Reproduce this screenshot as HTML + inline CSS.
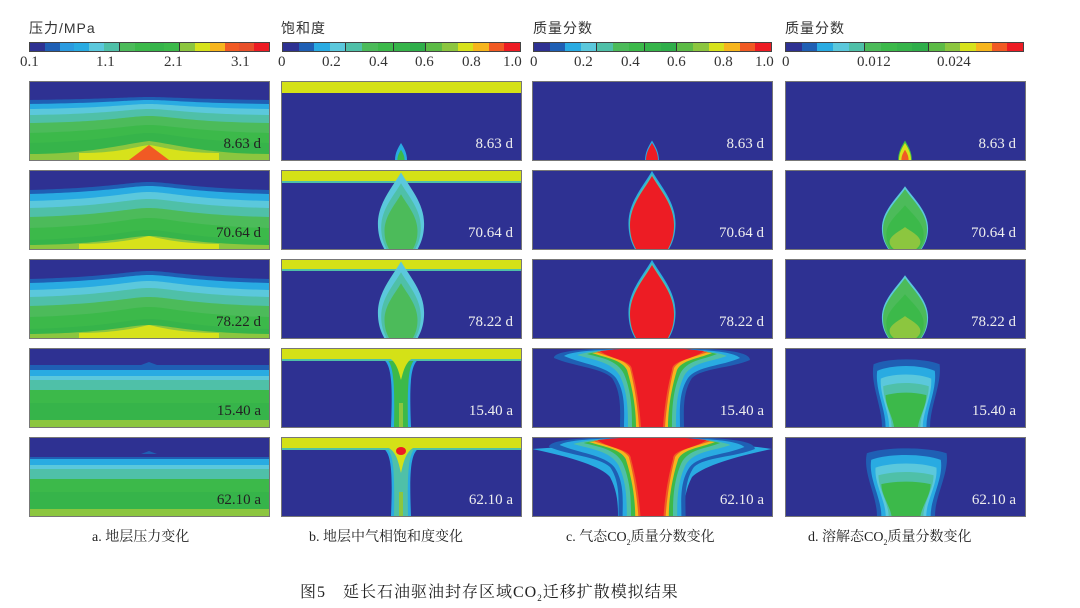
<!DOCTYPE html>
<html><head><meta charset="utf-8">
<style>
body{margin:0;background:#fff;width:1080px;height:608px;overflow:hidden;position:relative;font-family:"Liberation Serif","Noto Serif CJK SC",serif}
.t{position:absolute;font-family:"Liberation Sans","Noto Sans CJK SC",sans-serif;font-size:14px;color:#333;letter-spacing:1px}
.cb{position:absolute;top:42px;height:10px;display:flex;border:1px solid #444;box-sizing:border-box}
.cb div{flex:1}
.tk{position:absolute;top:54px;font-size:15px;color:#333}
.cap{position:absolute;top:526px;font-size:14px;color:#222;font-family:"Liberation Serif","Noto Serif CJK SC",serif}
</style></head><body>
<div class="t" style="left:29px;top:18px">压力/MPa</div>
<div class="t" style="left:281px;top:18px">饱和度</div>
<div class="t" style="left:533px;top:18px">质量分数</div>
<div class="t" style="left:785px;top:18px">质量分数</div>

<div class="cb" style="left:29px;width:241px"><div style="background:#2e3192"></div><div style="background:#1f5fb4"></div><div style="background:#2b9be0"></div><div style="background:#29abe2"></div><div style="background:#5bc8dc"></div><div style="background:#4fc0a8;border-right:1px solid #333"></div><div style="background:#4cbb5a"></div><div style="background:#3cb94a"></div><div style="background:#36b44a"></div><div style="background:#3cb94a;border-right:1px solid #333"></div><div style="background:#8cc63f"></div><div style="background:#d7e21b"></div><div style="background:#f7b51d"></div><div style="background:#f15a24"></div><div style="background:#e8502a"></div><div style="background:#ed1c24"></div></div>
<div class="cb" style="left:282px;width:239px"><div style="background:#2e3192"></div><div style="background:#1f5fb4"></div><div style="background:#29abe2"></div><div style="background:#5bc8dc;border-right:1px solid #333"></div><div style="background:#4fc0a8"></div><div style="background:#4cbb5a"></div><div style="background:#3cb94a;border-right:1px solid #333"></div><div style="background:#36b44a"></div><div style="background:#2fae4a;border-right:1px solid #333"></div><div style="background:#5cbb46"></div><div style="background:#8cc63f"></div><div style="background:#d7e21b"></div><div style="background:#f7b51d"></div><div style="background:#f15a24"></div><div style="background:#ed1c24"></div></div>
<div class="cb" style="left:533px;width:239px"><div style="background:#2e3192"></div><div style="background:#1f5fb4"></div><div style="background:#29abe2"></div><div style="background:#5bc8dc;border-right:1px solid #333"></div><div style="background:#4fc0a8"></div><div style="background:#4cbb5a"></div><div style="background:#3cb94a;border-right:1px solid #333"></div><div style="background:#36b44a"></div><div style="background:#2fae4a;border-right:1px solid #333"></div><div style="background:#5cbb46"></div><div style="background:#8cc63f"></div><div style="background:#d7e21b"></div><div style="background:#f7b51d"></div><div style="background:#f15a24"></div><div style="background:#ed1c24"></div></div>
<div class="cb" style="left:785px;width:239px"><div style="background:#2e3192"></div><div style="background:#1f5fb4"></div><div style="background:#29abe2"></div><div style="background:#5bc8dc"></div><div style="background:#4fc0a8;border-right:1px solid #333"></div><div style="background:#4cbb5a"></div><div style="background:#3cb94a"></div><div style="background:#36b44a"></div><div style="background:#2fae4a;border-right:1px solid #333"></div><div style="background:#5cbb46"></div><div style="background:#8cc63f"></div><div style="background:#d7e21b"></div><div style="background:#f7b51d"></div><div style="background:#f15a24"></div><div style="background:#ed1c24"></div></div>

<div class="tk" style="left:20px">0.1</div><div class="tk" style="left:96px">1.1</div><div class="tk" style="left:164px">2.1</div><div class="tk" style="left:231px">3.1</div>
<div class="tk" style="left:278px">0</div><div class="tk" style="left:322px">0.2</div><div class="tk" style="left:369px">0.4</div><div class="tk" style="left:415px">0.6</div><div class="tk" style="left:462px">0.8</div><div class="tk" style="left:503px">1.0</div>
<div class="tk" style="left:530px">0</div><div class="tk" style="left:574px">0.2</div><div class="tk" style="left:621px">0.4</div><div class="tk" style="left:667px">0.6</div><div class="tk" style="left:714px">0.8</div><div class="tk" style="left:755px">1.0</div>
<div class="tk" style="left:782px">0</div><div class="tk" style="left:857px">0.012</div><div class="tk" style="left:937px">0.024</div>

<svg width="1080" height="608" style="position:absolute;left:0;top:0">
<defs>
<g id="pA">
<rect width="240" height="79" fill="#2e3192"/>
<path d="M0,19 C80,18 100,16 120,16 C140,16 160,18 240,19 V79 H0Z" fill="#1f5fb4"/>
<path d="M0,23 C80,22 100,19 120,19 C140,19 160,22 240,23 V79 H0Z" fill="#29abe2"/>
<path d="M0,28 C80,27 100,23 120,23 C140,23 160,27 240,28 V79 H0Z" fill="#5bc8dc"/>
<path d="M0,34 C80,33 100,28 120,28 C140,28 160,33 240,34 V79 H0Z" fill="#4fc0a8"/>
<path d="M0,42 C80,41 100,35 120,35 C140,35 160,41 240,42 V79 H0Z" fill="#4cbb5a"/>
<path d="M0,52 C80,50 100,44 120,44 C140,44 160,50 240,52 V79 H0Z" fill="#3cb94a"/>
<path d="M0,62 C80,60 100,52 120,52 C140,52 160,60 240,62 V79 H0Z" fill="#36b44a"/>
<path d="M0,73 C60,73 90,64 120,60 C150,64 180,73 240,73 V79 H0Z" fill="#8cc63f"/>
</g>
<g id="pB">
<rect width="240" height="79" fill="#2e3192"/>
<path d="M0,20 C80,18 100,12 120,12 C140,12 160,18 240,20 V79 H0Z" fill="#1f5fb4"/>
<path d="M0,24 C80,22 100,16 120,16 C140,16 160,22 240,24 V79 H0Z" fill="#29abe2"/>
<path d="M0,31 C80,29 100,22 120,22 C140,22 160,29 240,31 V79 H0Z" fill="#5bc8dc"/>
<path d="M0,38 C80,36 100,29 120,29 C140,29 160,36 240,38 V79 H0Z" fill="#4fc0a8"/>
<path d="M0,47 C80,45 100,38 120,38 C140,38 160,45 240,47 V79 H0Z" fill="#4cbb5a"/>
<path d="M0,58 C80,56 100,48 120,48 C140,48 160,56 240,58 V79 H0Z" fill="#3cb94a"/>
<path d="M0,70 C80,68 100,60 120,60 C140,60 160,68 240,70 V79 H0Z" fill="#36b44a"/>
<path d="M0,75 C80,74 100,66 120,66 C140,66 160,74 240,75 V79 H0Z" fill="#8cc63f"/>
</g>
<g id="pC">
<rect width="240" height="79" fill="#2e3192"/>
<path d="M0,17 H112 L120,14 L128,17 H240 V79 H0Z" fill="#1f5fb4"/>
<rect y="22" width="240" height="57" fill="#29abe2"/>
<rect y="28" width="240" height="51" fill="#5bc8dc"/>
<rect y="32" width="240" height="47" fill="#4fc0a8"/>
<rect y="42" width="240" height="37" fill="#3cb94a"/>
<rect y="55" width="240" height="24" fill="#36b44a"/>
<rect y="72" width="240" height="7" fill="#8cc63f"/>
</g>
<g id="drop">
<path d="M120,6 C128,20 142,35 142,55 C142,68 138,75 136,79 L104,79 C102,75 98,68 98,55 C98,35 112,20 120,6Z"/>
</g>
<g id="sdrop"><path d="M120,62 C123,67 126,72 126,79 L114,79 C114,72 117,67 120,62Z"/></g>
<g id="tshape">
<path d="M22,10 C22,2 60,0 120,0 C180,0 218,2 218,12 C200,20 170,20 160,30 C150,45 152,65 152,79 L88,79 C88,65 90,45 80,30 C70,20 40,18 22,10Z" fill="#1f5fb4"/>
<path d="M32,8 C40,2 80,1 120,1 C160,1 200,2 208,10 C190,18 165,18 156,30 C146,45 148,65 148,79 L92,79 C92,65 94,45 84,30 C75,18 50,16 32,8Z" fill="#29abe2"/>
<path d="M45,7 C60,2 90,1 120,1 C150,1 180,2 195,8 C178,14 160,14 152,28 C144,45 144,65 144,79 L96,79 C96,65 96,45 88,28 C80,14 62,12 45,7Z" fill="#4fc0a8"/>
<path d="M55,6 C70,2 95,1 120,1 C145,1 170,2 185,6 C170,12 155,12 148,26 C140,45 140,65 140,79 L100,79 C100,65 100,45 92,26 C85,12 70,10 55,6Z" fill="#3cb94a"/>
<path d="M60,5 C80,2 100,1 120,1 C140,1 160,2 180,5 C165,11 150,12 145,22 C138,45 136,65 136,79 L104,79 C104,65 102,45 95,22 C90,12 75,10 60,5Z" fill="#f7b51d"/>
<path d="M64,4 C80,1 100,1 120,1 C140,1 160,1 176,4 C160,10 148,11 142,20 C136,45 134,65 133,79 L107,79 C106,65 104,45 98,20 C92,11 80,10 64,4Z" fill="#f15a24"/>
<path d="M68,3 C85,1 100,0 120,0 C140,0 155,1 172,3 C160,12 140,12 140,22 C134,45 132,65 131,79 L109,79 C108,65 106,45 100,22 C100,12 80,12 68,3Z" fill="#ed1c24"/>
</g>
<g id="bell" >
<path d="M93,22 C105,16 135,16 148,22 C150,40 140,60 140,79 L100,79 C100,60 90,40 93,22Z" fill="#1f5fb4"/>
<path d="M96,28 C108,22 132,22 144,28 C146,45 137,62 137,79 L103,79 C103,62 94,45 96,28Z" fill="#29abe2"/>
<path d="M99,35 C110,30 130,30 141,35 C142,50 134,65 134,79 L106,79 C106,65 98,50 99,35Z" fill="#5bc8dc"/>
<path d="M101,42 C112,38 128,38 139,42 C139,55 132,67 132,79 L108,79 C108,67 101,55 101,42Z" fill="#4fc0a8"/>
<path d="M103,50 C114,47 126,47 137,50 C137,60 131,70 130,79 L110,79 C109,70 103,60 103,50Z" fill="#3cb94a"/>
</g>
</defs>
<!-- column a -->
<g transform="translate(29,81)"><use href="#pA"/><path d="M50,79 L50,72 C90,72 105,66 120,64 C135,66 150,72 190,72 V79Z" fill="#d7e21b"/><path d="M100,79 L120,64 L140,79Z" fill="#f15a24"/></g>
<g transform="translate(29,170)"><use href="#pB"/><path d="M50,79 V74 C90,74 110,68 120,66 C130,68 150,74 190,74 V79Z" fill="#d7e21b"/></g>
<g transform="translate(29,259)"><use href="#pB"/><path d="M50,79 V74 C90,74 110,68 120,66 C130,68 150,74 190,74 V79Z" fill="#d7e21b"/></g>
<g transform="translate(29,348)"><use href="#pC"/></g>
<g transform="translate(29,437)"><use href="#pC"/><rect width="240" height="3" y="17" fill="#2e3192"/></g>
<!-- column b -->
<g transform="translate(281,81)"><rect width="240" height="79" fill="#2e3192"/><rect width="240" height="12" fill="#d4e117"/><use href="#sdrop" fill="#29abe2"/><g transform="translate(120,79) scale(.6) translate(-120,-79)"><use href="#sdrop" fill="#3cb94a"/></g></g>
<g transform="translate(281,170)"><rect width="240" height="79" fill="#2e3192"/><rect width="240" height="13" fill="#4fc0a8"/><rect width="240" height="11" fill="#d4e117"/><g transform="translate(120,79) scale(1.05) translate(-120,-79)"><use href="#drop" fill="#5bc8dc"/></g><g transform="translate(120,79) scale(.9) translate(-120,-79)"><use href="#drop" fill="#4fc0a8"/></g><g transform="translate(120,79) scale(.75) translate(-120,-79)"><use href="#drop" fill="#4cbb5a"/></g></g>
<g transform="translate(281,259)"><rect width="240" height="79" fill="#2e3192"/><rect width="240" height="12" fill="#4fc0a8"/><rect width="240" height="10" fill="#d4e117"/><g transform="translate(120,79) scale(1.05) translate(-120,-79)"><use href="#drop" fill="#5bc8dc"/></g><g transform="translate(120,79) scale(.9) translate(-120,-79)"><use href="#drop" fill="#4fc0a8"/></g><g transform="translate(120,79) scale(.75) translate(-120,-79)"><use href="#drop" fill="#4cbb5a"/></g></g>
<g transform="translate(281,348)"><rect width="240" height="79" fill="#2e3192"/><path d="M100,10 C110,14 112,30 110,79 H130 C128,30 130,14 140,10Z" fill="#29abe2"/><path d="M104,10 C112,14 114,30 113,79 H127 C126,30 128,14 136,10Z" fill="#3cb94a"/><rect width="240" height="13" fill="#4fc0a8"/><rect width="240" height="11" fill="#d4e117"/><path d="M108,10 C116,14 118,25 120,32 C122,25 124,14 132,10Z" fill="#d4e117"/><rect x="118" y="55" width="4" height="24" fill="#8cc63f"/></g>
<g transform="translate(281,437)"><rect width="240" height="79" fill="#2e3192"/><path d="M100,10 C110,14 112,30 110,79 H130 C128,30 130,14 140,10Z" fill="#29abe2"/><path d="M104,10 C112,14 114,30 113,79 H127 C126,30 128,14 136,10Z" fill="#4fc0a8"/><rect width="240" height="13" fill="#4fc0a8"/><rect width="240" height="11" fill="#d4e117"/><path d="M106,10 C116,14 118,28 120,36 C122,28 124,14 134,10Z" fill="#d4e117"/><ellipse cx="120" cy="14" rx="5" ry="4" fill="#ed1c24"/><rect x="118" y="55" width="4" height="24" fill="#8cc63f"/></g>
<!-- column c -->
<g transform="translate(532,81)"><rect width="240" height="79" fill="#2e3192"/><g transform="translate(120,79) scale(1.15) translate(-120,-79)"><use href="#sdrop" fill="#29abe2"/></g><use href="#sdrop" fill="#ed1c24"/></g>
<g transform="translate(532,170)"><rect width="240" height="79" fill="#2e3192"/><g transform="translate(120,79) scale(1.07) translate(-120,-79)"><use href="#drop" fill="#29abe2"/></g><g transform="translate(120,79) scale(1.03) translate(-120,-79)"><use href="#drop" fill="#4fc0a8"/></g><use href="#drop" fill="#ed1c24"/></g>
<g transform="translate(532,259)"><rect width="240" height="79" fill="#2e3192"/><g transform="translate(120,79) scale(1.07) translate(-120,-79)"><use href="#drop" fill="#29abe2"/></g><g transform="translate(120,79) scale(1.03) translate(-120,-79)"><use href="#drop" fill="#4fc0a8"/></g><use href="#drop" fill="#ed1c24"/></g>
<g transform="translate(532,348)"><rect width="240" height="79" fill="#2e3192"/><use href="#tshape"/></g>
<g transform="translate(532,437)"><rect width="240" height="79" fill="#2e3192"/><path d="M0,12 C30,10 60,8 80,4 H170 C200,8 230,10 240,12 C200,20 170,30 160,40 C152,55 152,70 152,79 H86 C86,70 86,55 78,40 C70,30 40,20 0,12Z" fill="#29abe2"/><g transform="translate(120,0) scale(1.05,1) translate(-120,0)"><use href="#tshape"/></g></g>
<!-- column d -->
<g transform="translate(785,81)"><rect width="240" height="79" fill="#2e3192"/><g transform="translate(120,79) scale(1.15) translate(-120,-79)"><use href="#sdrop" fill="#3cb94a"/></g><use href="#sdrop" fill="#d7e21b"/><g transform="translate(120,79) scale(.6) translate(-120,-79)"><use href="#sdrop" fill="#f15a24"/></g></g>
<g transform="translate(785,170)"><rect width="240" height="79" fill="#2e3192"/><g transform="translate(120,79) scale(1.05,0.86) translate(-120,-79)"><use href="#drop" fill="#5bc8dc"/></g><g transform="translate(120,79) scale(1,0.82) translate(-120,-79)"><use href="#drop" fill="#4cbb5a"/></g><g transform="translate(120,79) scale(.85,0.6) translate(-120,-79)"><use href="#drop" fill="#3cb94a"/></g><g transform="translate(120,79) scale(.7,0.3) translate(-120,-79)"><use href="#drop" fill="#8cc63f"/></g></g>
<g transform="translate(785,259)"><rect width="240" height="79" fill="#2e3192"/><g transform="translate(120,79) scale(1.05,0.86) translate(-120,-79)"><use href="#drop" fill="#5bc8dc"/></g><g transform="translate(120,79) scale(1,0.82) translate(-120,-79)"><use href="#drop" fill="#4cbb5a"/></g><g transform="translate(120,79) scale(.85,0.6) translate(-120,-79)"><use href="#drop" fill="#3cb94a"/></g><g transform="translate(120,79) scale(.7,0.3) translate(-120,-79)"><use href="#drop" fill="#8cc63f"/></g></g>
<g transform="translate(785,348)"><rect width="240" height="79" fill="#2e3192"/><g transform="translate(121,79) scale(1.2,1.1) translate(-120,-79)"><use href="#bell"/></g></g>
<g transform="translate(785,437)"><rect width="240" height="79" fill="#2e3192"/><g transform="translate(121,79) scale(1.45,1.1) translate(-120,-79)"><use href="#bell"/></g></g>
<!-- frames -->
<g fill="none" stroke="#777" stroke-width="1">
<rect x="29.5" y="81.5" width="240" height="79"/><rect x="29.5" y="170.5" width="240" height="79"/><rect x="29.5" y="259.5" width="240" height="79"/><rect x="29.5" y="348.5" width="240" height="79"/><rect x="29.5" y="437.5" width="240" height="79"/>
<rect x="281.5" y="81.5" width="240" height="79"/><rect x="281.5" y="170.5" width="240" height="79"/><rect x="281.5" y="259.5" width="240" height="79"/><rect x="281.5" y="348.5" width="240" height="79"/><rect x="281.5" y="437.5" width="240" height="79"/>
<rect x="532.5" y="81.5" width="240" height="79"/><rect x="532.5" y="170.5" width="240" height="79"/><rect x="532.5" y="259.5" width="240" height="79"/><rect x="532.5" y="348.5" width="240" height="79"/><rect x="532.5" y="437.5" width="240" height="79"/>
<rect x="785.5" y="81.5" width="240" height="79"/><rect x="785.5" y="170.5" width="240" height="79"/><rect x="785.5" y="259.5" width="240" height="79"/><rect x="785.5" y="348.5" width="240" height="79"/><rect x="785.5" y="437.5" width="240" height="79"/>
</g>
<g font-family="Liberation Serif, serif" font-size="15" text-anchor="end">
<g fill="#222"><text x="261" y="148">8.63 d</text><text x="261" y="237">70.64 d</text><text x="261" y="326">78.22 d</text><text x="261" y="415">15.40 a</text><text x="261" y="504">62.10 a</text></g>
<g fill="#eee"><text x="513" y="148">8.63 d</text><text x="513" y="237">70.64 d</text><text x="513" y="326">78.22 d</text><text x="513" y="415">15.40 a</text><text x="513" y="504">62.10 a</text>
<text x="764" y="148">8.63 d</text><text x="764" y="237">70.64 d</text><text x="764" y="326">78.22 d</text><text x="764" y="415">15.40 a</text><text x="764" y="504">62.10 a</text>
<text x="1016" y="148">8.63 d</text><text x="1016" y="237">70.64 d</text><text x="1016" y="326">78.22 d</text><text x="1016" y="415">15.40 a</text><text x="1016" y="504">62.10 a</text></g>
</g>
</svg>
<div class="cap" style="left:92px">a. 地层压力变化</div>
<div class="cap" style="left:309px">b. 地层中气相饱和度变化</div>
<div class="cap" style="left:566px">c. 气态CO<sub style="font-size:8px">2</sub>质量分数变化</div>
<div class="cap" style="left:808px">d. 溶解态CO<sub style="font-size:8px">2</sub>质量分数变化</div>
<div class="cap" style="left:300px;top:579px;font-size:16px;letter-spacing:1px">图5　延长石油驱油封存区域CO<sub style="font-size:9px">2</sub>迁移扩散模拟结果</div>
</body></html>
